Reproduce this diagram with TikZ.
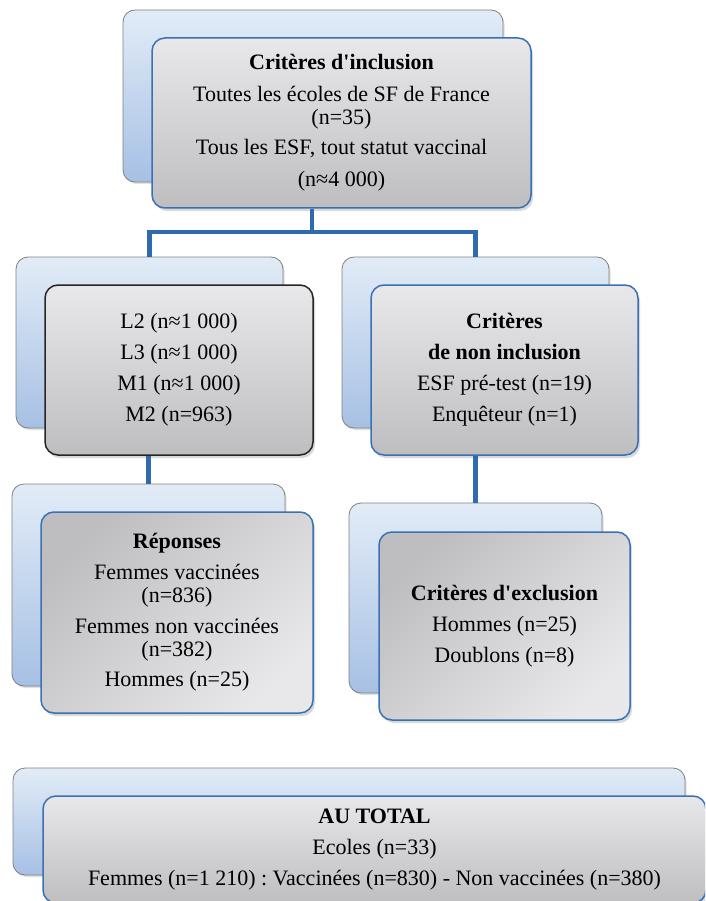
\documentclass[tikz,border=0pt]{standalone}
\usepackage{fontspec}
\setmainfont{Liberation Serif}
\usetikzlibrary{shadows}
\definecolor{connblue}{RGB}{46,106,172}
\definecolor{frontblue}{RGB}{58,112,180}
\definecolor{backtop}{RGB}{226,236,247}
\definecolor{backbot}{RGB}{166,192,228}
\definecolor{graylight}{RGB}{232,232,234}
\definecolor{graydark}{RGB}{190,190,193}
\newcommand{\ap}{\textquotesingle}
\tikzset{
  backbox/.style={draw=black!50, line width=0.8pt, rounded corners=12pt,
    top color=backtop, bottom color=backbot, inner sep=0pt,
    drop shadow={shadow xshift=1.5pt, shadow yshift=-2pt, opacity=.25}},
  frontbox/.style={draw=frontblue, line width=1.5pt, rounded corners=13pt,
    top color=graylight, bottom color=graydark, inner sep=0pt, align=center,
    font=\fontsize{22}{23}\selectfont\frenchspacing,
    drop shadow={shadow xshift=2pt, shadow yshift=-3pt, opacity=.3}},
  diagshade/.style={top color=graydark, bottom color=graylight, shading angle=45},
  conn/.style={draw=connblue, line width=4.5pt, line join=miter}
}
\begin{document}
\begin{tikzpicture}[x=1pt,y=-1pt]
\useasboundingbox (0,0) rectangle (705,901);
\clip (0,0) rectangle (705,901);
\fill[white] (0,0) rectangle (705,901);
% top
\node[backbox, minimum width=380pt, minimum height=172pt] (topB) at (313,96) {};
\node[frontbox, minimum width=379pt, minimum height=170pt] (topF) at (341.5,123)
 {\textbf{Critères d\ap inclusion}\\[9pt] Toutes les écoles de SF de France\\ (n=35)\\[7pt] Tous les ESF, tout statut vaccinal\\[9pt] (n≈4 000)};
% middle left
\node[backbox, minimum width=267pt, minimum height=171pt] (midLB) at (149.5,342.5) {};
\node[frontbox, draw=black!85, minimum width=268pt, minimum height=170pt] (midLF) at (179,370)
 {L2 (n≈1 000)\\[8pt] L3 (n≈1 000)\\[8pt] M1 (n≈1 000)\\[8pt] M2 (n=963)};
% middle right
\node[backbox, minimum width=267pt, minimum height=171pt] (midRB) at (475.5,342.5) {};
\node[frontbox, minimum width=267pt, minimum height=170pt] (midRF) at (504.5,370)
 {\textbf{Critères}\\[8pt] \textbf{de non inclusion}\\[8pt] ESF pré-test (n=19)\\[8pt] Enquêteur (n=1)};
% bottom left
\node[backbox, minimum width=273pt, minimum height=202pt] (botLB) at (148.5,585) {};
\node[frontbox, diagshade, minimum width=272pt, minimum height=201pt] (botLF) at (177,612.5)
 {\textbf{Réponses}\\[8pt] Femmes vaccinées\\ (n=836)\\[8pt] Femmes non vaccinées\\ (n=382)\\[7pt] Hommes (n=25)};
% bottom right
\node[backbox, minimum width=253pt, minimum height=190pt] (botRB) at (475.5,598) {};
\node[frontbox, diagshade, minimum width=251pt, minimum height=188pt] (botRF) at (504.5,626)
 {\textbf{Critères d\ap exclusion}\\[8pt] Hommes (n=25)\\[8pt] Doublons (n=8)};
% total
\node[backbox, minimum width=672pt, minimum height=107pt] (totB) at (349,821.5) {};
\node[frontbox, minimum width=663pt, minimum height=107pt] (totF) at (374.5,849.5)
 {\textbf{AU TOTAL}\\[8pt] Ecoles (n=33)\\[8pt] Femmes (n=1 210) : Vaccinées (n=830) - Non vaccinées (n=380)};
% connectors
\coordinate (j) at (312,232);
\draw[conn] (j |- topF.south) -- (j);
\draw[conn] (midLB.north) |- (j) -| (midRB.north);
\draw[conn] (botLB.north |- midLF.south) -- (botLB.north);
\draw[conn] (botRB.north |- midRF.south) -- (botRB.north);
\end{tikzpicture}
\end{document}
